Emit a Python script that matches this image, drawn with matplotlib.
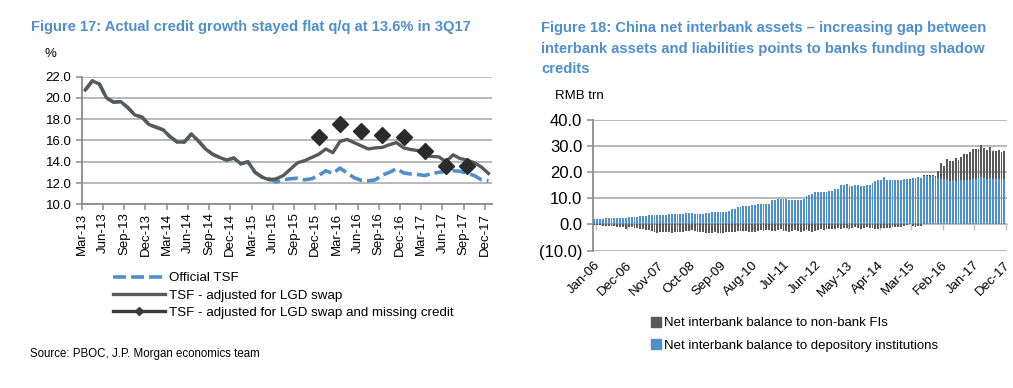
import numpy as np
import matplotlib
matplotlib.use('Agg')
import matplotlib.pyplot as plt
from matplotlib.lines import Line2D
from matplotlib.patches import Patch

plt.rcParams['font.family'] = ['Liberation Sans', 'DejaVu Sans']

# ---- Figure 17 data (monthly, Mar-13 .. Dec-17) ----
tsf_adj = [20.75, 21.6, 21.3, 20.0, 19.6, 19.65, 19.1, 18.4, 18.2, 17.5, 17.25, 17.0,
           16.35, 15.85, 15.85, 16.6, 15.95, 15.2, 14.7, 14.4, 14.15, 14.35, 13.8, 14.0,
           13.0, 12.55, 12.3, 12.4, 12.7, 13.3, 13.9, 14.1, 14.4, 14.7, 15.2, 14.85,
           15.9, 16.1, 15.8, 15.5, 15.2, 15.3, 15.35, 15.6, 15.8, 15.3, 15.15, 15.05,
           14.6, 14.5, 14.45, 14.0, 14.65, 14.3, 14.15, 13.9, 13.5, 12.9]
tsf_official = tsf_adj[:26] + [12.4, 12.1, 12.3, 12.4, 12.45, 12.3, 12.4, 12.7, 13.15, 12.9,
                               13.4, 12.95, 12.5, 12.25, 12.2, 12.3, 12.75, 13.0, 13.35, 12.95,
                               12.85, 12.8, 12.7, 12.9, 13.0, 13.1, 13.15, 13.1, 12.9, 12.7,
                               12.3, 12.2]
missing_idx = [33, 36, 39, 42, 45, 48, 51, 54]
missing_val = [16.3, 17.5, 16.85, 16.5, 16.3, 15.05, 13.6, 13.6]
fig17_labels = ['Mar-13', 'Jun-13', 'Sep-13', 'Dec-13', 'Mar-14', 'Jun-14', 'Sep-14',
                'Dec-14', 'Mar-15', 'Jun-15', 'Sep-15', 'Dec-15', 'Mar-16', 'Jun-16',
                'Sep-16', 'Dec-16', 'Mar-17', 'Jun-17', 'Sep-17', 'Dec-17']

# ---- Figure 18 data (monthly, Jan-06 .. Dec-17), RMB trn ----
depository = [2.1, 2.2, 2.2, 2.2, 2.3, 2.4, 2.4, 2.4, 2.4, 2.5, 2.5, 2.6,
              2.7, 2.7, 2.9, 3.0, 3.1, 3.2, 3.4, 3.5, 3.6, 3.6, 3.5, 3.6,
              3.6, 3.7, 3.9, 4.0, 4.0, 3.9, 4.0, 4.1, 4.3, 4.3, 4.3, 4.2,
              3.9, 4.0, 4.2, 4.4, 4.5, 4.6, 4.6, 4.7, 4.7, 4.6, 4.8, 5.0,
              6.0, 6.1, 6.5, 6.7, 7.0, 7.0, 7.2, 7.5, 7.6, 7.7, 7.8, 7.7,
              7.8, 8.0, 9.2, 9.3, 9.6, 9.8, 9.6, 9.7, 9.4, 9.3, 9.2, 9.4,
              9.5, 9.7, 11.0, 11.2, 11.5, 12.3, 12.4, 12.4, 12.3, 12.5, 12.8, 12.9,
              13.5, 13.7, 15.0, 15.1, 15.3, 14.9, 14.8, 15.0, 15.1, 14.8, 14.9, 15.2,
              15.2, 15.8, 16.5, 16.9, 17.2, 18.3, 17.2, 17.0, 17.1, 17.1, 17.1, 17.0,
              17.3, 17.4, 17.2, 17.7, 17.9, 18.2, 17.8, 18.4, 18.6, 18.3, 18.5, 18.0,
              17.6, 17.5, 17.3, 17.4, 16.8, 16.9, 16.8, 16.9, 17.0, 17.1, 17.0, 17.2,
              17.3, 17.5, 17.9, 18.0, 17.8, 17.5, 17.6, 17.4, 17.3, 17.4, 17.3, 17.3]
non_bank = [-0.2, -0.3, -0.3, -0.4, -0.5, -0.6, -0.6, -0.7, -0.8, -0.8, -0.9, -1.8,
            -1.0, -1.1, -1.3, -1.5, -1.6, -1.8, -2.0, -2.2, -2.5, -2.8, -3.3, -3.0,
            -2.8, -2.7, -3.0, -3.1, -2.8, -2.7, -2.9, -3.0, -2.5, -2.3, -2.2, -2.6,
            -2.8, -2.9, -3.0, -3.3, -3.4, -3.2, -3.0, -3.1, -3.3, -3.2, -2.9, -2.7,
            -2.8, -3.0, -2.6, -2.5, -2.3, -2.6, -2.9, -3.0, -2.7, -2.4, -2.2, -2.5,
            -2.2, -2.1, -2.4, -2.5, -2.0, -1.9, -2.3, -2.6, -2.8, -2.4, -2.2, -2.6,
            -2.7, -2.4, -2.1, -2.6, -2.8, -2.3, -2.0, -1.8, -2.1, -1.9, -1.6, -1.7,
            -1.8, -1.5, -1.9, -1.4, -1.2, -1.6, -1.3, -1.1, -1.4, -1.6, -1.2, -1.0,
            -1.3, -1.5, -1.7, -1.9, -1.4, -1.2, -1.5, -1.3, -1.0, -0.8, -1.1, -0.9,
            -0.6, -0.3, 0.3, -0.5, -0.8, -0.6, -0.4, 0.5, 0.4, 0.8, 0.3, 0.7,
            2.9, 6.0, 5.2, 7.7, 7.3, 7.2, 8.5, 7.8, 9.0, 9.7, 10.0, 10.6,
            11.4, 11.2, 10.8, 12.4, 11.3, 11.0, 12.1, 10.8, 10.9, 11.1, 10.5, 10.9]
fig18_labels = ['Jan-06', 'Dec-06', 'Nov-07', 'Oct-08', 'Sep-09', 'Aug-10', 'Jul-11',
                'Jun-12', 'May-13', 'Apr-14', 'Mar-15', 'Feb-16', 'Jan-17', 'Dec-17']

title_col = '#4f8fcc'
blue = '#4f8fcc'
dark = '#595959'
grid_col = '#a6a6a6'
dash = (0, (3.6, 1.4))

fig = plt.figure(figsize=(10.13, 3.88), dpi=100)

# ================= Figure 17 =================
ax1 = fig.add_axes([0.0807, 0.4735, 0.405, 0.329])
x = np.arange(len(tsf_adj)) + 0.5
ax1.plot(x[:len(tsf_official)], tsf_official, color=blue, lw=2.6, ls=dash,
         label='Official TSF', zorder=3)
ax1.plot(x, tsf_adj, color=dark, lw=2.4, label='TSF - adjusted for LGD swap', zorder=4)
ax1.plot(np.array(missing_idx) + 0.5, missing_val, ls='none', marker='D', ms=8.5,
         color='#2b2b2b', zorder=5)

ax1.set_xlim(0, 58)
ax1.set_ylim(10, 22)
ax1.set_yticks(np.arange(10, 23, 2))
ax1.set_yticklabels(['%.1f' % v for v in np.arange(10, 23, 2)], fontsize=9.5)
ax1.set_xticks(np.arange(0, 58, 3))
ax1.set_xticklabels(fig17_labels, rotation=90, fontsize=9.5)
ax1.grid(axis='y', color=grid_col, lw=1.1)
ax1.set_axisbelow(True)
for s in ['top', 'right']:
    ax1.spines[s].set_visible(False)
for s in ['left', 'bottom']:
    ax1.spines[s].set_color('#8c8c8c')
    ax1.spines[s].set_linewidth(1.3)
ax1.tick_params(axis='both', colors='#8c8c8c', labelcolor='black', length=4, width=1.1)
ax1.tick_params(axis='x', pad=2)

fig.text(0.031, 0.931, 'Figure 17: Actual credit growth stayed flat q/q at 13.6% in 3Q17',
         fontsize=10.6, fontweight='bold', color=title_col, va='center')
fig.text(0.044, 0.862, '%', fontsize=9.5, va='center')

h1 = [Line2D([], [], color=blue, lw=2.6, ls=dash),
      Line2D([], [], color=dark, lw=2.4),
      Line2D([], [], color='#3a3a3a', lw=2.4, marker='D', ms=4)]
fig.legend(h1, ['Official TSF', 'TSF - adjusted for LGD swap',
                'TSF - adjusted for LGD swap and missing credit'],
           loc='upper left', bbox_to_anchor=(0.106, 0.313), frameon=False, fontsize=9.6,
           handlelength=3.9, handletextpad=0.3, labelspacing=0.38, borderaxespad=0)

fig.text(0.03, 0.088, 'Source: PBOC, J.P. Morgan economics team', fontsize=8.3, va='center')

# ================= Figure 18 =================
ax2 = fig.add_axes([0.585, 0.354, 0.4087, 0.337])
xb = np.arange(len(depository))
dep = np.array(depository)
nb = np.array(non_bank)
ax2.bar(xb, dep, width=0.65, color=blue, zorder=3,
        label='Net interbank balance to depository institutions')
ax2.bar(xb, nb, width=0.65, bottom=np.where(nb > 0, dep, 0), color=dark, zorder=3,
        label='Net interbank balance to non-bank FIs')

ax2.set_xlim(-0.6, 143.8)
ax2.set_ylim(-10, 40)
yt = np.arange(-10, 41, 10)
ax2.set_yticks(yt)
ax2.set_yticklabels(['(%.1f)' % -v if v < 0 else '%.1f' % v for v in yt], fontsize=12)
ax2.grid(axis='y', color=grid_col, lw=1.1)
ax2.set_axisbelow(True)
for s in ['top', 'right']:
    ax2.spines[s].set_visible(False)
ax2.spines['left'].set_color('#8c8c8c')
ax2.spines['left'].set_linewidth(1.3)
ax2.spines['bottom'].set_position(('data', 0))
ax2.spines['bottom'].set_color('#bfbfbf')
ax2.tick_params(axis='y', colors='#8c8c8c', labelcolor='black', length=4, width=1.1)
xt = np.arange(0, 144, 11)
ax2.set_xticks(xt + 0.5)
ax2.tick_params(axis='x', labelbottom=False, colors='#bfbfbf', length=4, width=1)

sec = ax2.secondary_xaxis('bottom')
sec.set_xticks(xt)
sec.set_xticklabels(fig18_labels, rotation=45, ha='right', rotation_mode='anchor', fontsize=9.5)
sec.tick_params(length=0, pad=6)
sec.spines['bottom'].set_visible(False)

fig.text(0.534, 0.929, 'Figure 18: China net interbank assets \u2013 increasing gap between',
         fontsize=10.6, fontweight='bold', color=title_col, va='center')
fig.text(0.534, 0.874, 'interbank assets and liabilities points to banks funding shadow',
         fontsize=10.6, fontweight='bold', color=title_col, va='center')
fig.text(0.534, 0.822, 'credits', fontsize=10.6, fontweight='bold', color=title_col, va='center')
fig.text(0.548, 0.753, 'RMB trn', fontsize=9.5, va='center')

h2 = [Patch(color=dark), Patch(color=blue)]
fig.legend(h2, ['Net interbank balance to non-bank FIs',
                'Net interbank balance to depository institutions'],
           loc='upper left', bbox_to_anchor=(0.637, 0.197), frameon=False, fontsize=9.5,
           handlelength=0.8, handleheight=0.8, handletextpad=0.2, labelspacing=0.75,
           borderaxespad=0)

fig.savefig('out.png', dpi=100)
